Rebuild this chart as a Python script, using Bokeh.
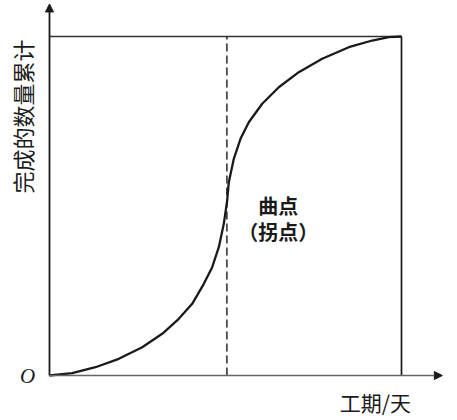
import math
from bokeh.plotting import figure
from bokeh.models import Range1d, Arrow, NormalHead
from bokeh.core.properties import value
from bokeh.embed import file_html
from bokeh.resources import INLINE

# S-curve: cumulative completed quantity (%) vs. duration (% of total days)
days = [0, 6.45, 13.07, 19.69, 26.34, 32.02, 36.73, 40.54, 43.84, 46.22,
        48.10, 49.52, 50.48, 50.94, 52.36, 54.26, 56.62, 60.43, 65.14,
        70.82, 77.47, 85.03, 91.68, 96.39, 100]
cumulative = [0, 0.68, 2.45, 4.93, 8.35, 12.30, 16.73, 21.15, 27.05, 31.95,
              37.85, 44.75, 51.62, 57.02, 63.92, 69.82, 74.72, 80.15, 85.04,
              89.47, 93.42, 96.84, 98.82, 99.79, 100]
inflection_day = 50.4
total_day = 100
total_qty = 100

x_label = "工期/天"
y_label = "完成的数量累计"
origin_label = "O"
note_line1 = "曲点"
note_line2 = "（拐点）"

CJK = value("Noto Sans CJK SC")
INK = "#1a1a1a"

p = figure(width=457, height=420, output_backend="svg", toolbar_location=None,
           x_range=Range1d(-13.92, 115.91), y_range=Range1d(-13.27, 110.62),
           min_border=0, min_border_left=0, min_border_right=0,
           min_border_top=0, min_border_bottom=0)
p.axis.visible = False
p.grid.visible = False
p.outline_line_color = None
p.background_fill_color = "white"
p.border_fill_color = "white"

# axes with arrows
p.add_layout(Arrow(x_start=0, y_start=0, x_end=0, y_end=109.6,
                   line_color=INK, line_width=1.8,
                   end=NormalHead(size=8, fill_color=INK, line_color=INK)))
p.add_layout(Arrow(x_start=0, y_start=0, x_end=111.6, y_end=0,
                   line_color="#666666", line_width=1.3,
                   end=NormalHead(size=8, fill_color=INK, line_color=INK)))

# top and right boundary lines
p.line([0, total_day], [total_qty, total_qty], line_color="#333333", line_width=1.5)
p.line([total_day, total_day], [0, total_qty], line_color=INK, line_width=1.7)

# dashed line through inflection point
p.line([inflection_day, inflection_day], [0, total_qty], line_color=INK,
       line_width=1.4, line_dash="8 4")

# S curve
p.line(days, cumulative, line_color=INK, line_width=2.3)

# texts
p.text(x=[-6.2], y=[0], text=[origin_label], text_font=value("Liberation Serif"),
       text_font_style="italic", text_font_size="21px", text_color=INK,
       text_align="center", text_baseline="middle")
p.text(x=[65.0], y=[50.2], text=[note_line1], text_font=CJK,
       text_font_size="20px", text_color=INK, text_font_style="bold",
       text_align="center", text_baseline="middle")
p.text(x=[65.0], y=[42.5], text=[note_line2], text_font=CJK,
       text_font_size="20px", text_color=INK, text_font_style="bold",
       text_align="center", text_baseline="middle")
p.text(x=[-7.95], y=[76.4], text=[y_label], text_font=CJK, angle=math.pi / 2,
       text_font_size="22px", text_color=INK,
       text_align="center", text_baseline="middle")
p.text(x=[92.6], y=[-7.9], text=[x_label], text_font=CJK,
       text_font_size="21px", text_color=INK,
       text_align="center", text_baseline="middle")

open("out.html", "w").write(file_html(p, INLINE))
